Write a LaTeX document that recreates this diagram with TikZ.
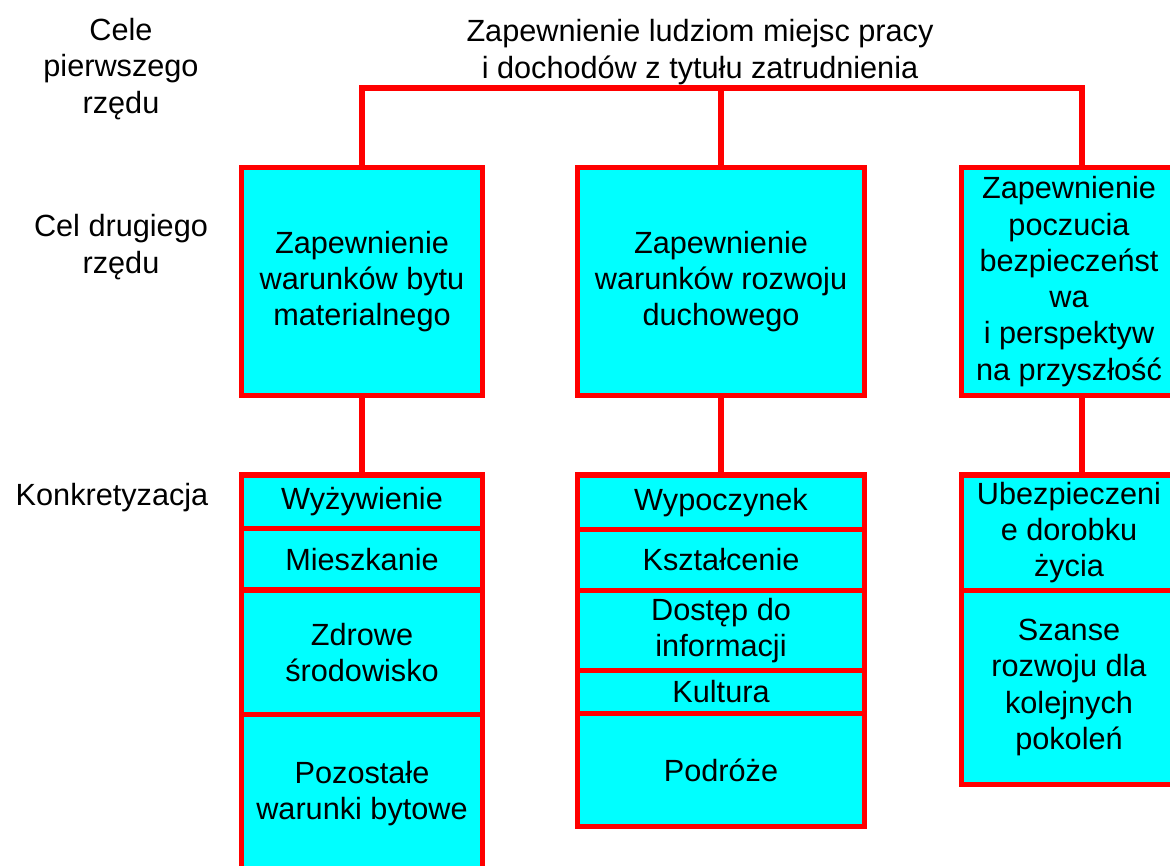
\documentclass[tikz,border=0pt]{standalone}
\usepackage{fontspec}
\setmainfont{Liberation Sans}
\usepackage{tikz}
\usetikzlibrary{positioning,calc}
\definecolor{goalcyan}{HTML}{00FFFF}
\definecolor{goalred}{HTML}{FF0000}
\tikzset{
  txt/.style={font=\fontsize{23}{27.2}\selectfont,align=center,inner sep=1pt},
  goal/.style={txt,draw=goalred,fill=goalcyan,line width=3.9pt,outer sep=0pt},
  link/.style={draw=goalred,line width=3.9pt}
}
\begin{document}
\begin{tikzpicture}[x=0.75pt,y=-0.75pt]
          \useasboundingbox (0,0) rectangle (1170,866);
          \clip (0,0) rectangle (1170,866);
          \node[txt] (title) at (700,52)
            {Zapewnienie ludziom miejsc pracy\\i dochodów z tytułu zatrudnienia};
          \node[txt] (lvl1) at (121,69) {Cele\\pierwszego\\rzędu};
          \node[txt] (lvl2) at (121,247) {Cel drugiego\\rzędu};
          \node[txt] (lvl3) at (112,498) {Konkretyzacja};

          \node[goal,minimum width=180.75pt,minimum height=171pt] (big1) at (362,281.5)
            {Zapewnienie\\warunków bytu\\materialnego};
          \node[goal,minimum width=215.25pt,minimum height=171pt] (big2) at (721,281.5)
            {Zapewnienie\\warunków rozwoju\\duchowego};
          \node[goal,minimum width=161.25pt,minimum height=171pt] (big3) at (1069,281.5)
            {Zapewnienie\\poczucia\\bezpieczeńst\\wa\\i perspektyw\\na przyszłość};

          \node[goal,minimum width=180.75pt,minimum height=40.125pt,below=59.625pt of big1] (a1) {Wyżywienie};
          \node[goal,minimum width=180.75pt,minimum height=46.125pt,below=0pt of a1] (a2) {Mieszkanie};
          \node[goal,minimum width=180.75pt,minimum height=93.375pt,below=0pt of a2] (a3) {Zdrowe\\środowisko};
          \node[goal,minimum width=180.75pt,minimum height=118.125pt,below=0pt of a3] (a4) {Pozostałe\\warunki bytowe};

          \node[goal,minimum width=215.25pt,minimum height=40.875pt,below=59.625pt of big2] (b1) {Wypoczynek};
          \node[goal,minimum width=215.25pt,minimum height=45.75pt,below=0pt of b1] (b2) {Kształcenie};
          \node[goal,minimum width=215.25pt,minimum height=60pt,below=0pt of b2] (b3) {Dostęp do\\informacji};
          \node[goal,minimum width=215.25pt,minimum height=32.25pt,below=0pt of b3] (b4) {Kultura};
          \node[goal,minimum width=215.25pt,minimum height=84.75pt,below=0pt of b4] (b5) {Podróże};

          \node[goal,minimum width=161.25pt,minimum height=86.625pt,below=59.625pt of big3] (c1) {Ubezpieczeni\\e dorobku\\życia};
          \node[goal,minimum width=161.25pt,minimum height=145.5pt,below=0pt of c1] (c2) {Szanse\\rozwoju dla\\kolejnych\\pokoleń};

          \coordinate (t1) at (362,88);
          \coordinate (t3) at (1082,88);
          \draw[link] (big1.north) -- (t1) -- (t3) -- (t3 |- big3.north);
          \draw[link] (big2.north) -- (big2.north |- t1);
          \draw[link] (big1.south) -- (a1.north);
          \draw[link] (big2.south) -- (b1.north);
          \draw[link] (big3.south -| t3) -- (c1.north -| t3);
        \end{tikzpicture}
\end{document}
